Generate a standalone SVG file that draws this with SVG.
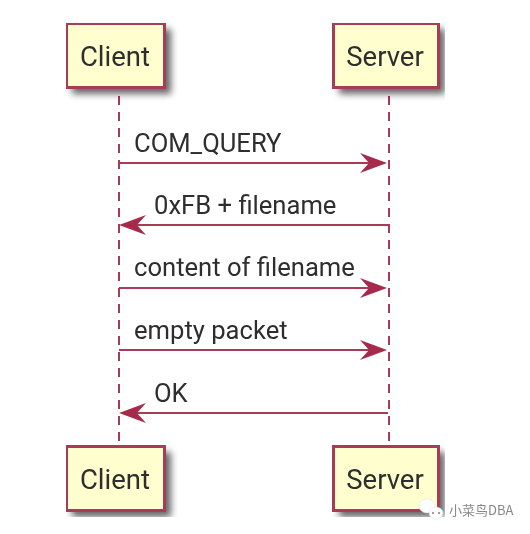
<svg xmlns="http://www.w3.org/2000/svg" width="530" height="534" viewBox="0 0 530 534">
<style>
.box{fill:#FEFECE;stroke:#A83A55;stroke-width:3}
.shadow{fill:#000;opacity:.6;filter:url(#blur)}
.life{stroke:#A83A55;stroke-width:2;stroke-dasharray:9 7;fill:none}
.msg{stroke:#A83A55;stroke-width:2;fill:none}
.head{fill:#A62C4C}
text{font-family:Roboto,"Liberation Sans",sans-serif;fill:#2e2e2e}
.name{font-size:27.500px;text-anchor:middle}
.lab{font-size:25.600px}
</style>
<defs>
<filter id="blur" x="-20%" y="-20%" width="140%" height="140%"><feGaussianBlur stdDeviation="3.500"/></filter>
<filter id="soft" x="0" y="0" width="100%" height="100%"><feGaussianBlur stdDeviation="0.500"/></filter>
</defs>
<rect width="530" height="534" fill="#fff"/>
<g filter="url(#soft)">
<g id="connectors">
<path class="life" d="M119 96V447"/>
<path class="life" d="M389 96V447"/>
<path class="msg" d="M119 163H378"/><path class="head" d="M360 153L387 163L360 173L369 163Z"/>
<path class="msg" d="M388 225H128"/><path class="head" d="M146 215L119 225L146 235L137 225Z"/>
<path class="msg" d="M119 288H378"/><path class="head" d="M360 278L387 288L360 298L369 288Z"/>
<path class="msg" d="M119 350H378"/><path class="head" d="M360 340L387 350L360 360L369 350Z"/>
<path class="msg" d="M388 413H128"/><path class="head" d="M146 403L119 413L146 423L137 413Z"/>
</g>
<g id="client-top"><rect class="shadow" x="72" y="29" width="99" height="65"/><rect class="box" x="66.500" y="23.500" width="98" height="64"/><text class="name" x="115" y="66">Client</text></g>
<g id="server-top"><rect class="shadow" x="339" y="29" width="106" height="65"/><rect class="box" x="333.500" y="23.500" width="105" height="64"/><text class="name" x="385" y="66">Server</text></g>
<g id="client-bottom"><rect class="shadow" x="72" y="452" width="99" height="65"/><rect class="box" x="66.500" y="446.500" width="98" height="64"/><text class="name" x="115" y="489">Client</text></g>
<g id="server-bottom"><rect class="shadow" x="339" y="452" width="106" height="65"/><rect class="box" x="333.500" y="446.500" width="105" height="64"/><text class="name" x="385" y="489">Server</text></g>
<g id="labels">
<text class="lab" x="134" y="152">COM_QUERY</text>
<text class="lab" x="154" y="214">0xFB + filename</text>
<text class="lab" x="134" y="276">content of filename</text>
<text class="lab" x="134" y="339">empty packet</text>
<text class="lab" x="154" y="402">OK</text>
</g>
</g>
<g id="watermark">
<ellipse cx="427" cy="506" rx="8" ry="7" fill="#fff" stroke="#ddd" stroke-width=".5"/>
<ellipse cx="436" cy="513" rx="7" ry="6" fill="#fff" stroke="#ddd" stroke-width=".5"/>
<circle cx="433" cy="513" r="1" fill="#b06a78"/><circle cx="439" cy="513" r="1" fill="#b06a78"/>
<text x="449" y="515" font-size="13" style="font-family:'Noto Sans CJK SC',sans-serif;fill:#888">小菜鸟DBA</text>
</g>
</svg>
